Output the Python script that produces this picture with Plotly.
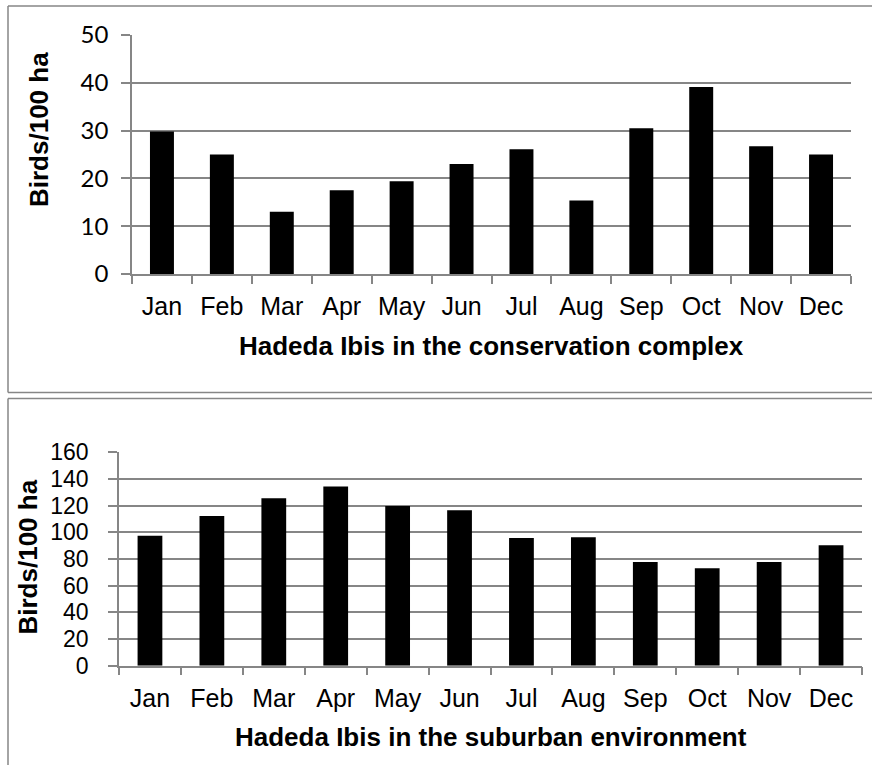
import plotly.graph_objects as go

# ---- data ----
months = ["Jan", "Feb", "Mar", "Apr", "May", "Jun", "Jul", "Aug", "Sep", "Oct", "Nov", "Dec"]
conservation = [29.8, 25.0, 13.0, 17.5, 19.4, 23.0, 26.1, 15.4, 30.5, 39.1, 26.7, 25.0]
suburban = [97.5, 112.3, 125.5, 134.3, 119.8, 116.5, 95.8, 96.3, 77.8, 73.0, 77.8, 90.3]
top_ticks = [0, 10, 20, 30, 40, 50]
bottom_ticks = [0, 20, 40, 60, 80, 100, 120, 140, 160]
y_title = "Birds/100 ha"
top_title = "Hadeda Ibis in the conservation complex"
bottom_title = "Hadeda Ibis in the suburban environment"

W, H = 872, 765
GRID = "#868686"
ARIAL = "Liberation Sans, Arial, sans-serif"


def px(x):
    return x / W


def py(y):
    return 1 - y / H


fig = go.Figure()
fig.add_trace(go.Bar(x=months, y=conservation, marker=dict(color="black", line=dict(width=0)),
                     xaxis="x", yaxis="y", showlegend=False))
fig.add_trace(go.Bar(x=months, y=suburban, marker=dict(color="black", line=dict(width=0)),
                     xaxis="x2", yaxis="y2", showlegend=False))

xcommon = dict(type="category", showline=True, linecolor=GRID, linewidth=1.5, automargin=False,
               ticks="outside", tickson="boundaries", ticklen=8, tickcolor=GRID, tickwidth=1.5,
               showgrid=False, zeroline=False,
               tickfont=dict(family=ARIAL, size=25, color="black"))
ycommon = dict(showline=True, linecolor=GRID, linewidth=1.5, ticks="outside", ticklen=9,
               tickcolor=GRID, tickwidth=1.5, showgrid=True, gridcolor=GRID, gridwidth=1.5,
               zeroline=False, automargin=False)

fig.update_layout(
    template="none",
    width=W, height=H, margin=dict(l=0, r=0, t=0, b=0, pad=0), autosize=False,
    paper_bgcolor="white", plot_bgcolor="white", bargap=0.6, showlegend=False,
    xaxis=dict(domain=[px(132), px(851)], anchor="y", ticklabelstandoff=9, **xcommon),
    yaxis=dict(domain=[py(274), py(35)], anchor="x", range=[0, 50], tickvals=top_ticks,
               tickfont=dict(family="Lato, sans-serif", size=24, color="black"),
               ticklabelstandoff=8, **ycommon),
    xaxis2=dict(domain=[px(119), px(862)], anchor="y2", ticklabelstandoff=10, **xcommon),
    yaxis2=dict(domain=[py(665.7), py(452.3)], anchor="x2", range=[0, 160], tickvals=bottom_ticks,
                tickfont=dict(family=ARIAL, size=23, color="black"),
                ticklabelstandoff=15, **ycommon),
)

ann_font = dict(family=ARIAL, size=26, color="black", weight="bold")
fig.add_annotation(x=px(39), y=py(130), xref="paper", yref="paper", text=y_title,
                   textangle=-90, showarrow=False, font=ann_font, xanchor="center", yanchor="middle")
fig.add_annotation(x=px(27.5), y=py(557), xref="paper", yref="paper", text=y_title,
                   textangle=-90, showarrow=False, font=ann_font, xanchor="center", yanchor="middle")
fig.add_annotation(x=px(491.5), y=py(346), xref="paper", yref="paper", text=top_title,
                   showarrow=False, font=ann_font, xanchor="center", yanchor="middle")
fig.add_annotation(x=px(490.5), y=py(737), xref="paper", yref="paper", text=bottom_title,
                   showarrow=False, font=ann_font, xanchor="center", yanchor="middle")

# panel borders
line = dict(color=GRID, width=1.5)
for (x0, y0, x1, y1) in [
    (8, 6, 880, 6), (8, 6, 8, 392.5), (8, 392.5, 880, 392.5),
    (8, 398.5, 880, 398.5), (8, 398.5, 8, 780),
]:
    fig.add_shape(type="line", xref="paper", yref="paper", x0=px(x0), y0=py(y0), x1=px(x1), y1=py(y1),
                  line=line)

fig.write_html("out.html", config={"displayModeBar": False},
               post_script="document.body.style.margin='0';document.body.style.overflow='hidden';")
